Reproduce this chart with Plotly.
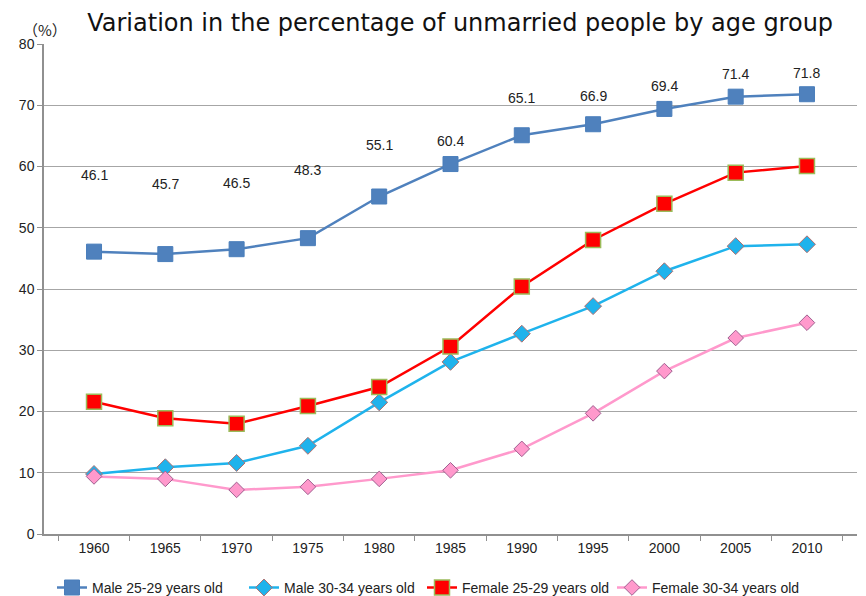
import plotly.graph_objects as go

years = ['1960', '1965', '1970', '1975', '1980', '1985', '1990', '1995', '2000', '2005', '2010']
male_25_29 = [46.1, 45.7, 46.5, 48.3, 55.1, 60.4, 65.1, 66.9, 69.4, 71.4, 71.8]
male_30_34 = [9.8, 10.9, 11.6, 14.4, 21.5, 28.1, 32.7, 37.2, 42.9, 47.0, 47.3]
female_25_29 = [21.6, 18.9, 18.0, 20.9, 24.0, 30.6, 40.4, 48.0, 53.9, 59.0, 60.1]
female_30_34 = [9.4, 9.0, 7.2, 7.7, 9.0, 10.4, 13.9, 19.7, 26.6, 32.0, 34.5]

font = 'Liberation Sans'

# page body keeps its default 8px margin, so the figure is 8px smaller each way
W, H = 858, 588

fig = go.Figure()
fig.add_trace(go.Scatter(x=years, y=male_25_29, name='Male 25-29 years old', mode='lines+markers',
                         legend='legend',
                         line=dict(color='#4F81BD', width=2.5),
                         marker=dict(symbol='square', size=15, color='#4F81BD', line=dict(color='#4A7EBB', width=1))))
fig.add_trace(go.Scatter(x=years, y=male_30_34, name='Male 30-34 years old', mode='lines+markers',
                         legend='legend2',
                         line=dict(color='#1FB3EC', width=2.5),
                         marker=dict(symbol='diamond', size=13, color='#1FB3EC', line=dict(color='#B07070', width=1))))
fig.add_trace(go.Scatter(x=years, y=female_25_29, name='Female 25-29 years old', mode='lines+markers',
                         legend='legend3',
                         line=dict(color='#FF0000', width=2.5),
                         marker=dict(symbol='square', size=15, color='#FF0000', line=dict(color='#9BBB59', width=1.5))))
fig.add_trace(go.Scatter(x=years, y=female_30_34, name='Female 30-34 years old', mode='lines+markers',
                         legend='legend4',
                         line=dict(color='#FF99CC', width=2.5),
                         marker=dict(symbol='diamond', size=12, color='#FF99CC', line=dict(color='#A06090', width=1))))

# data labels for male 25-29, lifted by hand like the original
lifts = [77, 70, 66, 68, 52, 23, 37, 28, 23, 23, 21]
for i, (v, s) in enumerate(zip(male_25_29, lifts)):
    fig.add_annotation(x=i, y=v, text=f'{v}', showarrow=False, yshift=s,
                       font=dict(family=font, size=14, color='#222222'))

fig.add_annotation(x=0.0, y=1.0, xref='paper', yref='paper', text='（%）', showarrow=False,
                   xanchor='center', yanchor='bottom', xshift=1, yshift=2,
                   font=dict(family='Noto Sans CJK JP', size=15, color='#222222'))


def leg(x):
    return dict(orientation='h', x=x / W, xanchor='left', xref='container',
                y=-0.11, yanchor='middle', yref='paper',
                font=dict(size=14), itemwidth=30, bgcolor='rgba(0,0,0,0)')


fig.update_layout(
    width=W, height=H,
    margin=dict(l=36, r=9, t=36, b=62, autoexpand=False),
    paper_bgcolor='white', plot_bgcolor='white',
    title=dict(text='Variation in the percentage of unmarried people by age group',
               x=0.527, xanchor='center', y=0.976, yanchor='middle',
               font=dict(family='DejaVu Sans', size=24, color='#111111')),
    font=dict(family=font, size=14, color='#222222'),
    xaxis=dict(type='category', showline=True, linecolor='#909090', linewidth=1.5,
               ticks='outside', tickson='boundaries', ticklen=5, tickcolor='#909090',
               showgrid=False),
    yaxis=dict(range=[0, 80], dtick=10, showline=True, linecolor='#909090', linewidth=1.5,
               ticks='outside', ticklen=5, tickcolor='#909090',
               gridcolor='#A6A6A6', gridwidth=1.2, zeroline=False),
    legend=leg(44),
    legend2=leg(236),
    legend3=leg(414),
    legend4=leg(604),
    showlegend=True,
)

fig.write_html('out.html')
